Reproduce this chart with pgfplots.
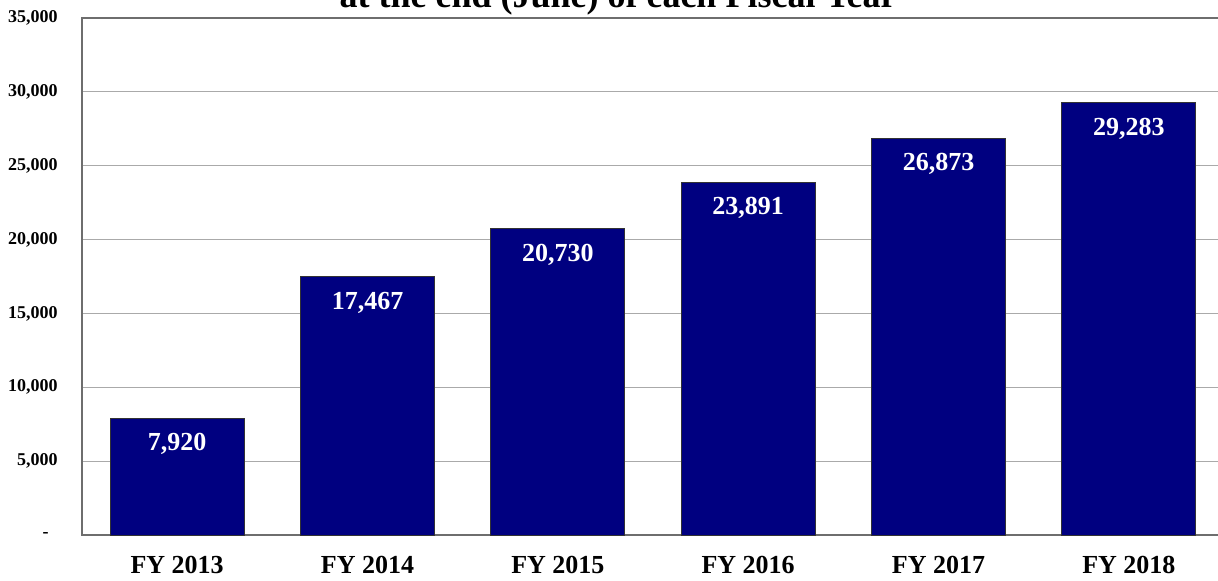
\documentclass[border=0pt]{standalone}
\usepackage{fontspec}
\setmainfont{Liberation Serif}
\usepackage{pgfplots}
\pgfplotsset{compat=1.18}
\definecolor{barnavy}{RGB}{0,0,128}
\definecolor{axisgray}{RGB}{110,110,110}
\definecolor{gridgray}{RGB}{170,170,170}
\begin{document}
\begin{tikzpicture}
\useasboundingbox (0,0) rectangle (609pt,290pt);
\begin{axis}[
  at={(41pt,22.5pt)}, anchor=south west,
  scale only axis, width=571pt, height=258.5pt,
  xmin=-0.5, xmax=5.5, ymin=0, ymax=35000,
  scaled y ticks=false,
  xtick={0,1,2,3,4,5},
  xticklabels={FY 2013,FY 2014,FY 2015,FY 2016,FY 2017,FY 2018},
  ytick={0,5000,10000,15000,20000,25000,30000,35000},
  yticklabels={{-\hphantom{0}},{5,000},{10,000},{15,000},{20,000},{25,000},{30,000},{35,000}},
  major tick length=0pt,
  ymajorgrids, grid style={draw=gridgray, line width=0.6pt},
  axis line style={draw=axisgray, line width=0.8pt},
  xticklabel style={font=\bfseries\fontsize{13}{15}\selectfont, inner sep=0pt, yshift=-10.5pt},
  yticklabel style={font=\bfseries\fontsize{9}{11}\selectfont, inner sep=0pt, xshift=-12pt},
  ybar, bar width=67pt,
  /pgf/number format/.cd, 1000 sep={,}, assume math mode=true, /pgfplots/.cd,
  nodes near coords,
  every node near coord/.append style={font=\bfseries\fontsize{13}{15}\selectfont, text=white, anchor=north, inner sep=0pt, yshift=-7.5pt},
]
\addplot[fill=barnavy, draw=black!80, line width=0.5pt] coordinates {
  (0,7920) (1,17467) (2,20730) (3,23891) (4,26873) (5,29283)
};
\end{axis}
\node[font=\bfseries\fontsize{18}{20}\selectfont, anchor=base, inner sep=0pt] at (309pt,286.5pt) {at the end (June) of each Fiscal Year};
\end{tikzpicture}
\end{document}
